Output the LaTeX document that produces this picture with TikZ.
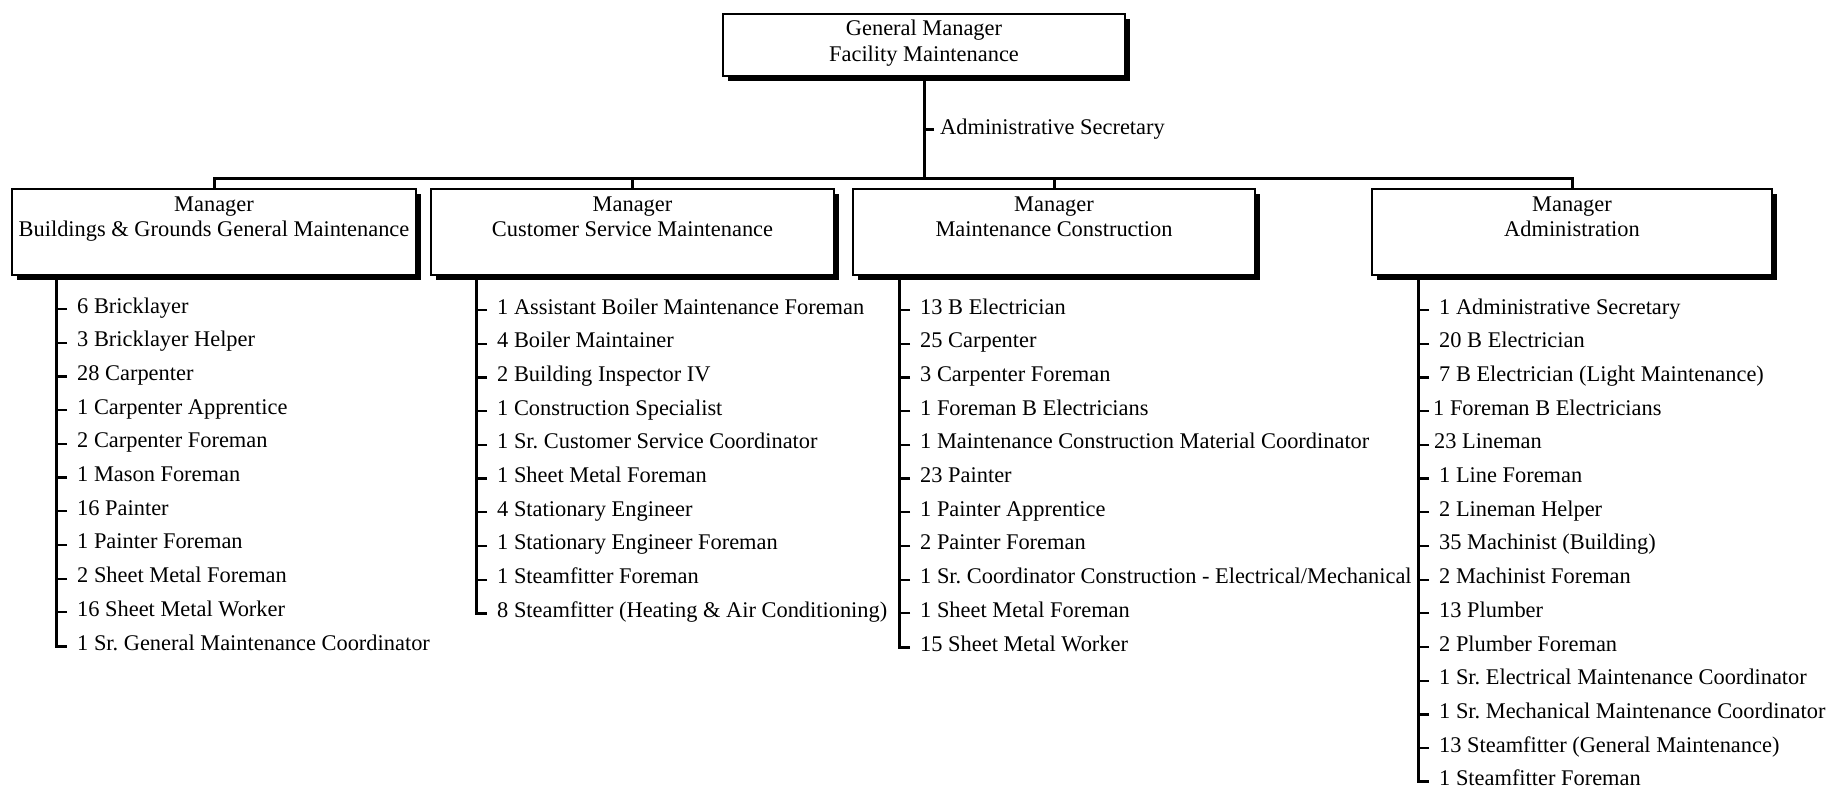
\documentclass[tikz,border=0pt]{standalone}
\usepackage{fontspec}
\setmainfont{Liberation Serif}
\usetikzlibrary{shadows,calc}
\begin{document}
\frenchspacing
\begin{tikzpicture}[x=1pt,y=-1pt,
  every node/.style={font=\fontsize{22.4}{25.5}\selectfont},
  box/.style={draw, line width=2.4pt, fill=white, rectangle, inner sep=0pt,
    drop shadow={fill=black, opacity=1, shadow xshift=5pt, shadow yshift=-5pt}},
  boxtext/.style={align=center, anchor=north, inner sep=0pt},
  item/.style={anchor=base west, inner xsep=10pt, inner ysep=0pt},
  wire/.style={line width=3pt},
  tick/.style={line width=2.2pt}]
\useasboundingbox (0,0) rectangle (1828,787);

% boxes
\node[box, minimum width=402pt, minimum height=62pt] (gm) at (924,45) {};
\node[box, minimum width=404pt, minimum height=86pt] (m1) at (214,232) {};
\node[box, minimum width=403pt, minimum height=86pt] (m2) at (632.5,232) {};
\node[box, minimum width=402pt, minimum height=86pt] (m3) at (1054,232) {};
\node[box, minimum width=400pt, minimum height=86pt] (m4) at (1572,232) {};

\node[boxtext] (gmt) at ($(gm.north)+(0,7)$) {General Manager\\Facility Maintenance};
\node[boxtext] (m1t) at ($(m1.north)+(0,8.5)$) {Manager\\Buildings \& Grounds General Maintenance};
\node[boxtext] (m2t) at ($(m2.north)+(0,8.5)$) {Manager\\Customer Service Maintenance};
\node[boxtext] (m3t) at ($(m3.north)+(0,8.5)$) {Manager\\Maintenance Construction};
\node[boxtext] (m4t) at ($(m4.north)+(0,8.5)$) {Manager\\Administration};

% top connectors
\coordinate (bus) at (924,178);
\draw[wire] (gm.south) -- (gm.south |- bus);
\draw[wire] (m1.north) |- (bus) -| (m4.north);
\draw[wire] (m2.north) -- (m2.north |- bus);
\draw[wire] (m3.north) -- (m3.north |- bus);

\node[item, inner xsep=6pt] (sec) at (934,134) {Administrative Secretary};
\coordinate (sect) at ([yshift=4.5pt]sec.base west);
\draw[tick] (sect) -- (sect -| gm.south);

% column 1
\foreach [count=\k from 0] \t in {6 Bricklayer, 3 Bricklayer Helper, 28 Carpenter,
  1 Carpenter Apprentice, 2 Carpenter Foreman, 1 Mason Foreman, 16 Painter,
  1 Painter Foreman, 2 Sheet Metal Foreman, 16 Sheet Metal Worker,
  1 Sr. General Maintenance Coordinator}
  {\node[item] (a\k) at (67,{313+33.7*\k}) {\t};
   \draw[tick] ([yshift=4pt]a\k.base west) -- ++(-9,0);}
\draw[wire] ([xshift=46pt]m1.south west) |- ([yshift=4pt]a10.base west);

% column 2
\foreach [count=\k from 0] \t in {1 Assistant Boiler Maintenance Foreman,
  4 Boiler Maintainer, 2 Building Inspector IV, 1 Construction Specialist,
  1 Sr. Customer Service Coordinator, 1 Sheet Metal Foreman, 4 Stationary Engineer,
  1 Stationary Engineer Foreman, 1 Steamfitter Foreman,
  8 Steamfitter (Heating \& Air Conditioning)}
  {\node[item] (b\k) at (487,{314+33.7*\k}) {\t};
   \draw[tick] ([yshift=4pt]b\k.base west) -- ++(-9,0);}
\draw[wire] ([xshift=47pt]m2.south west) |- ([yshift=4pt]b9.base west);

% column 3
\foreach [count=\k from 0] \t in {13 B Electrician, 25 Carpenter, 3 Carpenter Foreman,
  1 Foreman B Electricians, 1 Maintenance Construction Material Coordinator,
  23 Painter, 1 Painter Apprentice, 2 Painter Foreman,
  1 Sr. Coordinator Construction - Electrical/Mechanical, 1 Sheet Metal Foreman,
  15 Sheet Metal Worker}
  {\node[item] (c\k) at (910,{314+33.7*\k}) {\t};
   \draw[tick] ([yshift=4pt]c\k.base west) -- ++(-9,0);}
\draw[wire] ([xshift=48pt]m3.south west) |- ([yshift=4pt]c10.base west);

% column 4
\foreach [count=\k from 0] \t/\s in {1 Administrative Secretary/10, 20 B Electrician/10,
  7 B Electrician (Light Maintenance)/10, 1 Foreman B Electricians/4, 23 Lineman/5,
  1 Line Foreman/10, 2 Lineman Helper/10, 35 Machinist (Building)/10,
  2 Machinist Foreman/10, 13 Plumber/10, 2 Plumber Foreman/10,
  1 Sr. Electrical Maintenance Coordinator/10, 1 Sr. Mechanical Maintenance Coordinator/10,
  13 Steamfitter (General Maintenance)/10, 1 Steamfitter Foreman/10}
  {\node[item, inner xsep=\s pt] (d\k) at (1429,{314+33.7*\k}) {\t};
   \draw[tick] ([yshift=4pt]d\k.base west) -- ++(-9,0);}
\draw[wire] ([xshift=48pt]m4.south west) |- ([yshift=4pt]d14.base west);
\end{tikzpicture}
\end{document}
